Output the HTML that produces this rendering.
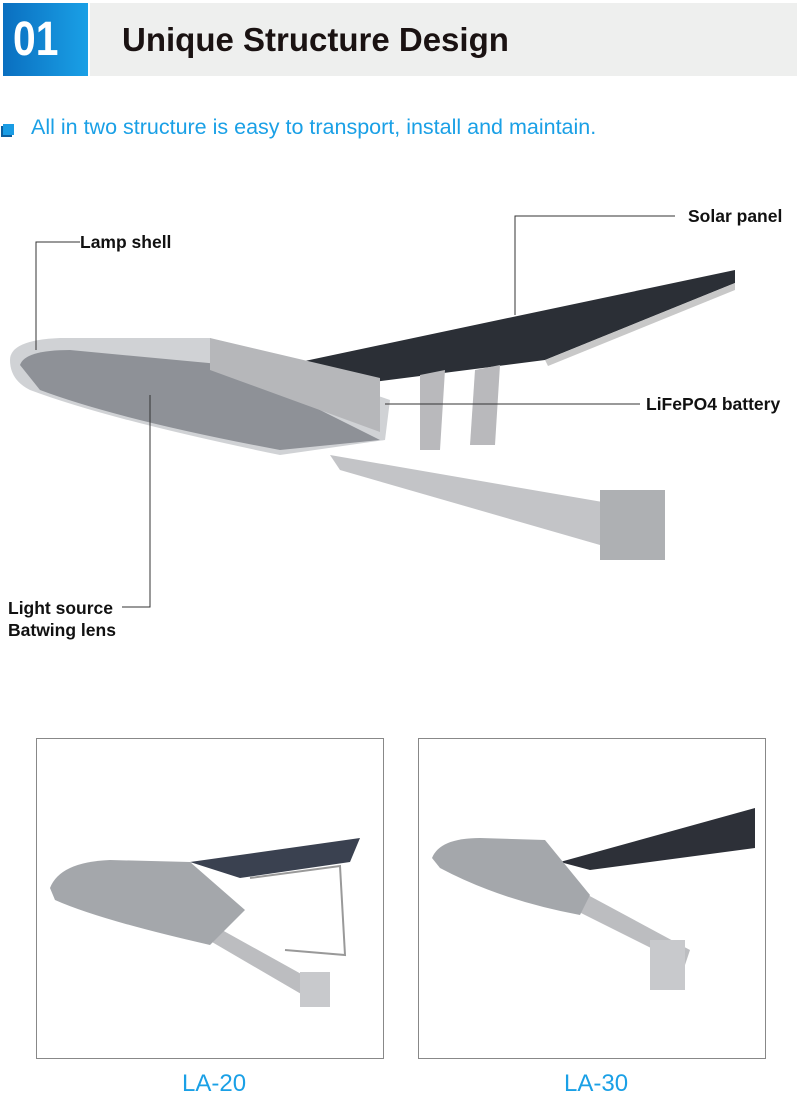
<!DOCTYPE html>
<html><head><meta charset="utf-8"><style>
body{margin:0;width:800px;height:1106px;background:#fff;position:relative;overflow:hidden;font-family:"Liberation Sans",sans-serif}
.a{position:absolute}
.lbl{position:absolute;font-weight:bold;font-size:17.5px;color:#111}
</style></head><body>
<div class="a" style="left:3px;top:3px;width:85px;height:73px;background:linear-gradient(90deg,#0a6fc0,#1aa0e6)"></div>
<div class="a" style="left:13px;top:12px;color:#fff;font-weight:bold;font-size:48px;transform:scaleX(.85);transform-origin:left">01</div>
<div class="a" style="left:90px;top:3px;width:707px;height:73px;background:#eeefee"></div>
<div class="a" style="left:122px;top:21px;font-weight:bold;font-size:33px;color:#1a1212">Unique Structure Design</div>
<div class="a" style="left:3px;top:124px;width:11px;height:11px;background:#1a9ce4;box-shadow:-2px 2px 0 #0d5f9e"></div>
<div class="a" style="left:31px;top:115px;font-size:21.5px;color:#1aa0e6">All in two structure is easy to transport, install and maintain.</div>

<svg class="a" style="left:0;top:0" width="800" height="1106">
<polygon points="300,362 735,270 735,283 545,360 350,385" fill="#2b2f36"/>
<polygon points="545,360 735,283 735,290 548,366" fill="#c8c8c8"/>
<polygon points="420,375 445,370 440,450 420,450" fill="#b9b9bc"/>
<polygon points="475,370 500,365 495,445 470,445" fill="#b9b9bc"/>
<polygon points="330,455 620,505 640,540 600,545 340,470" fill="#c3c4c7"/>
<polygon points="600,490 665,490 665,560 600,560" fill="#aeb0b3"/>
<path d="M10,360 Q10,340 60,338 L210,338 L390,400 L385,440 L280,455 Q110,420 30,390 Q10,380 10,360Z" fill="#d0d2d5"/>
<path d="M20,365 Q25,350 70,350 L230,365 L380,440 L280,450 Q120,420 40,390Z" fill="#8e9197"/>
<polygon points="210,338 380,378 380,432 210,370" fill="#b6b7ba"/>
<g stroke="#333" stroke-width="1" fill="none">
<polyline points="80,242 36,242 36,350"/>
<polyline points="675,216 515,216 515,315"/>
<polyline points="640,404 385,404"/>
<polyline points="122,607 150,607 150,395"/>
</g>
<rect x="36.5" y="738.5" width="347" height="320" fill="none" stroke="#888"/>
<rect x="418.5" y="738.5" width="347" height="320" fill="none" stroke="#888"/>
<polygon points="190,862 360,838 350,862 240,878" fill="#3a4150"/>
<polyline points="250,878 340,866 345,955 285,950" stroke="#999" fill="none" stroke-width="2"/>
<polygon points="195,915 330,990 320,1005 200,935" fill="#bcbdc0"/>
<rect x="300" y="972" width="30" height="35" fill="#c8c9cc"/>
<path d="M50,888 Q60,862 110,860 L190,862 L245,910 L210,945 Q100,920 55,900Z" fill="#a4a7ab"/>
<polygon points="560,862 755,808 755,848 590,870" fill="#2d3038"/>
<polygon points="560,880 690,950 685,965 555,900" fill="#bcbdc0"/>
<rect x="650" y="940" width="35" height="50" fill="#c8c9cc"/>
<path d="M432,858 Q440,838 480,838 L545,840 L590,895 L580,915 Q500,900 440,868Z" fill="#a4a7ab"/>
</svg>
<div class="lbl" style="left:80px;top:232px">Lamp shell</div>
<div class="lbl" style="left:688px;top:206px">Solar panel</div>
<div class="lbl" style="left:646px;top:394px">LiFePO4 battery</div>
<div class="lbl" style="left:8px;top:597px;line-height:22px">Light source<br>Batwing lens</div>
<div class="a" style="left:182px;top:1070px;font-size:24px;color:#1aa0e6">LA-20</div>
<div class="a" style="left:564px;top:1070px;font-size:24px;color:#1aa0e6">LA-30</div>
</body></html>
